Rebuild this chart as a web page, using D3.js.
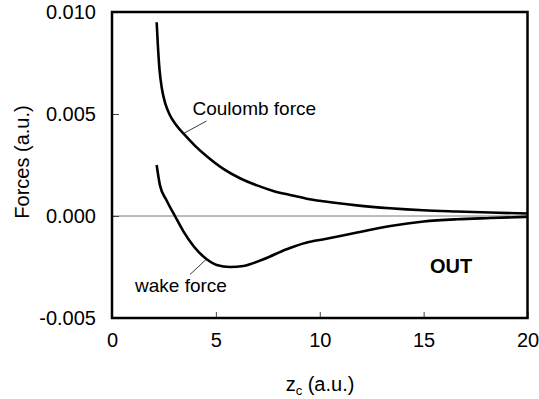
<!DOCTYPE html>
<html>
<head>
<meta charset="utf-8">
<script src="https://cdn.jsdelivr.net/npm/d3@7"></script>
<style>
  html, body { margin: 0; padding: 0; background: #fff; }
  svg { display: block; font-family: "Liberation Sans", Arial, Helvetica, sans-serif; }
</style>
</head>
<body>
<svg id="chart" width="539" height="399"></svg>
<script>
// ---- data ----
const coulombZ = [2.15, 2.205, 2.286, 2.407, 2.575, 2.79, 3.08, 3.51, 4.0, 4.56, 5.36, 6.16, 6.98, 7.76, 8.57, 9.37, 10.17, 11.78, 13.38, 14.98, 16.59, 18.19, 20];
const coulombF = [0.0095, 0.00842, 0.00719, 0.00621, 0.00548, 0.00494, 0.00447, 0.00396, 0.00344, 0.00293, 0.00231, 0.00185, 0.0015, 0.00123, 0.00103, 0.00085, 0.00072, 0.00052, 0.00038, 0.00028, 0.00022, 0.00017, 0.00012];
const wakeZ = [2.15, 2.31, 2.63, 3.03, 3.43, 3.92, 4.56, 5.04, 5.68, 6.33, 7.29, 8.41, 9.38, 10.2, 11.8, 13.4, 15.0, 16.6, 18.2, 20];
const wakeF = [0.0025, 0.0015, 0.00076, 0, -0.00074, -0.00147, -0.00212, -0.0024, -0.0025, -0.00245, -0.00212, -0.00163, -0.0013, -0.00114, -0.00081, -0.00049, -0.00027, -0.00016, -0.0001, -0.00004];
const xTicks = [0, 5, 10, 15, 20];
const xTickLabels = ["0", "5", "10", "15", "20"];
const yTicks = [-0.005, 0, 0.005, 0.010];
const yTickLabels = ["-0.005", "0.000", "0.005", "0.010"];
const xDomain = [0, 20];
const yDomain = [-0.005, 0.010];

// ---- layout ----
const L = 112, R = 527.5, T = 12, B = 318;
const svg = d3.select("#chart");
const x = d3.scaleLinear().domain(xDomain).range([L, R]);
const y = d3.scaleLinear().domain(yDomain).range([B, T]);

// zero line
svg.append("line")
  .attr("x1", x(0)).attr("x2", x(20))
  .attr("y1", y(0)).attr("y2", y(0))
  .attr("stroke", "#7a7a7a").attr("stroke-width", 1);

// axes (inner ticks)
const yAxis = d3.axisLeft(y).tickValues(yTicks)
  .tickFormat((d, i) => yTickLabels[i]).tickSizeInner(-7).tickSizeOuter(0).tickPadding(16);
const xAxis = d3.axisBottom(x).tickValues(xTicks)
  .tickFormat((d, i) => xTickLabels[i]).tickSizeInner(-6).tickSizeOuter(0).tickPadding(15);

const gy = svg.append("g").attr("transform", `translate(${L},0)`).call(yAxis);
const gx = svg.append("g").attr("transform", `translate(0,${B})`).call(xAxis);
[gx, gy].forEach(g => {
  g.select(".domain").remove();
  g.selectAll(".tick line").attr("stroke", "#444").attr("stroke-width", 1);
  g.selectAll(".tick text").attr("fill", "#000").style("font-size", "20px");
});

// curves
const line = d3.line().x(d => x(d[0])).y(d => y(d[1])).curve(d3.curveMonotoneX);
svg.append("path")
  .datum(coulombZ.map((z, i) => [z, coulombF[i]]))
  .attr("d", line).attr("fill", "none").attr("stroke", "#000").attr("stroke-width", 2.6);
svg.append("path")
  .datum(wakeZ.map((z, i) => [z, wakeF[i]]))
  .attr("d", line).attr("fill", "none").attr("stroke", "#000").attr("stroke-width", 2.6);

// frame
svg.append("rect")
  .attr("x", L).attr("y", T).attr("width", R - L).attr("height", B - T)
  .attr("fill", "none").attr("stroke", "#000").attr("stroke-width", 2.5);

// leader lines
svg.append("line").attr("x1", 206.5).attr("y1", 121).attr("x2", 183.5).attr("y2", 133.5)
  .attr("stroke", "#222").attr("stroke-width", 0.9);
svg.append("line").attr("x1", 206).attr("y1", 259.5).attr("x2", 190).attr("y2", 274.5)
  .attr("stroke", "#222").attr("stroke-width", 0.9);

// curve labels
svg.append("text").attr("x", 192.5).attr("y", 115).style("font-size", "19px").text("Coulomb force");
svg.append("text").attr("x", 135).attr("y", 292).style("font-size", "19px").text("wake force");
svg.append("text").attr("x", 451).attr("y", 272.5).attr("text-anchor", "middle")
  .style("font-size", "20px").style("font-weight", "bold").text("OUT");

// axis titles
svg.append("text").attr("transform", "translate(29,162) rotate(-90)")
  .attr("text-anchor", "middle").style("font-size", "20px").text("Forces (a.u.)");
const xt = svg.append("text").attr("x", 320).attr("y", 391).attr("text-anchor", "middle").style("font-size", "20px");
xt.append("tspan").text("z");
xt.append("tspan").attr("dy", 4).style("font-size", "13px").text("c");
xt.append("tspan").attr("dy", -4).text(" (a.u.)");
</script>
</body>
</html>
